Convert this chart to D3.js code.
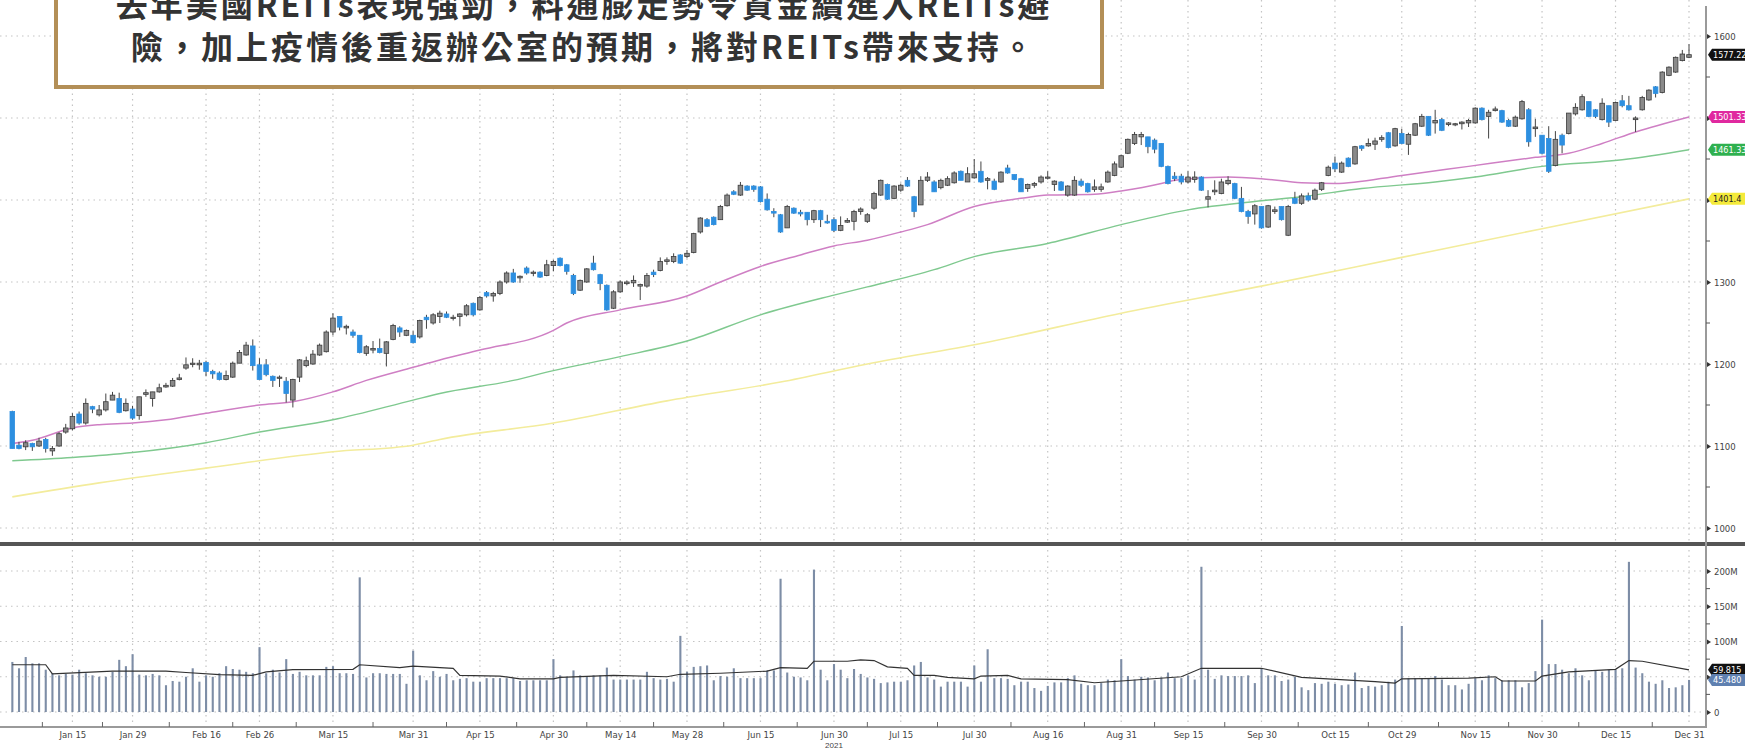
<!DOCTYPE html>
<html><head><meta charset="utf-8">
<script src="https://cdn.jsdelivr.net/npm/d3@7"></script>
<style>
html,body{margin:0;padding:0;background:#fff;}
svg{display:block;}
.ax text{font-family:"Liberation Sans Narrow","DejaVu Sans Condensed",sans-serif;font-size:9.5px;fill:#444;}
</style></head>
<body>
<svg id="c" width="1745" height="748"></svg>
<script>
// ---------------- DATA ----------------
const tradingDays = [
"01-04","01-05","01-06","01-07","01-08","01-11","01-12","01-13","01-14","01-15","01-19","01-20","01-21","01-22","01-25","01-26","01-27","01-28","01-29",
"02-01","02-02","02-03","02-04","02-05","02-08","02-09","02-10","02-11","02-12","02-16","02-17","02-18","02-19","02-22","02-23","02-24","02-25","02-26",
"03-01","03-02","03-03","03-04","03-05","03-08","03-09","03-10","03-11","03-12","03-15","03-16","03-17","03-18","03-19","03-22","03-23","03-24","03-25","03-26","03-29","03-30","03-31",
"04-01","04-05","04-06","04-07","04-08","04-09","04-12","04-13","04-14","04-15","04-16","04-19","04-20","04-21","04-22","04-23","04-26","04-27","04-28","04-29","04-30",
"05-03","05-04","05-05","05-06","05-07","05-10","05-11","05-12","05-13","05-14","05-17","05-18","05-19","05-20","05-21","05-24","05-25","05-26","05-27","05-28",
"06-01","06-02","06-03","06-04","06-07","06-08","06-09","06-10","06-11","06-14","06-15","06-16","06-17","06-18","06-21","06-22","06-23","06-24","06-25","06-28","06-29","06-30",
"07-01","07-02","07-06","07-07","07-08","07-09","07-12","07-13","07-14","07-15","07-16","07-19","07-20","07-21","07-22","07-23","07-26","07-27","07-28","07-29","07-30",
"08-02","08-03","08-04","08-05","08-06","08-09","08-10","08-11","08-12","08-13","08-16","08-17","08-18","08-19","08-20","08-23","08-24","08-25","08-26","08-27","08-30","08-31",
"09-01","09-02","09-03","09-07","09-08","09-09","09-10","09-13","09-14","09-15","09-16","09-17","09-20","09-21","09-22","09-23","09-24","09-27","09-28","09-29","09-30",
"10-01","10-04","10-05","10-06","10-07","10-08","10-11","10-12","10-13","10-14","10-15","10-18","10-19","10-20","10-21","10-22","10-25","10-26","10-27","10-28","10-29",
"11-01","11-02","11-03","11-04","11-05","11-08","11-09","11-10","11-11","11-12","11-15","11-16","11-17","11-18","11-19","11-22","11-23","11-24","11-26","11-29","11-30",
"12-01","12-02","12-03","12-06","12-07","12-08","12-09","12-10","12-13","12-14","12-15","12-16","12-17","12-20","12-21","12-22","12-23","12-27","12-28","12-29","12-30","12-31"
];
const openPx = [1142,1101,1099,1103,1100,1108,1094,1100,1117,1121,1139,1128,1148,1138,1144,1156,1158,1143,1145,1137,1163,1158,1166,1172,1173,1181,1195,1200,1199,1202,1191,1189,1181,1184,1201,1211,1222,1199,1199,1185,1183,1179,1156,1184,1198,1200,1211,1215,1239,1258,1244,1239,1235,1213,1217,1219,1213,1230,1244,1235,1235,1233,1257,1250,1258,1261,1256,1258,1260,1274,1266,1287,1283,1286,1300,1311,1305,1317,1311,1312,1308,1320,1329,1321,1308,1290,1300,1323,1309,1296,1268,1288,1298,1299,1295,1295,1312,1314,1325,1325,1333,1331,1336,1361,1376,1379,1376,1393,1410,1406,1417,1417,1416,1401,1386,1382,1366,1390,1385,1385,1376,1387,1374,1376,1363,1373,1374,1386,1374,1390,1406,1419,1402,1412,1424,1404,1394,1424,1422,1415,1418,1421,1435,1422,1427,1435,1424,1423,1422,1439,1431,1426,1414,1418,1422,1427,1419,1422,1406,1406,1423,1420,1413,1413,1422,1430,1440,1457,1469,1477,1477,1473,1469,1441,1429,1429,1422,1425,1428,1401,1410,1408,1420,1420,1402,1386,1383,1392,1367,1386,1392,1357,1402,1396,1405,1401,1413,1430,1445,1434,1451,1444,1466,1466,1468,1474,1482,1466,1481,1468,1479,1490,1502,1494,1498,1492,1492,1493,1494,1494,1512,1502,1509,1509,1497,1490,1499,1510,1487,1479,1475,1442,1479,1481,1505,1510,1520,1510,1498,1515,1497,1521,1515,1498,1510,1522,1538,1531,1552,1556,1570,1574];
const highPx = [1143,1105,1107,1104,1110,1110,1100,1117,1127,1140,1142,1158,1149,1150,1164,1166,1165,1158,1149,1160,1169,1166,1176,1177,1183,1188,1208,1207,1205,1204,1193,1191,1192,1203,1217,1227,1230,1207,1206,1186,1186,1184,1182,1206,1209,1217,1225,1241,1262,1258,1248,1242,1235,1223,1228,1231,1228,1249,1246,1242,1240,1254,1260,1262,1265,1264,1260,1262,1273,1275,1283,1289,1288,1302,1313,1316,1308,1319,1314,1313,1327,1327,1330,1322,1310,1303,1317,1332,1310,1297,1290,1302,1302,1308,1298,1311,1315,1330,1330,1335,1334,1339,1360,1379,1378,1380,1394,1408,1412,1422,1418,1418,1417,1408,1390,1383,1394,1391,1388,1385,1388,1388,1382,1379,1380,1378,1388,1391,1384,1410,1425,1420,1418,1420,1428,1405,1429,1434,1424,1426,1429,1435,1436,1440,1450,1447,1428,1426,1435,1443,1431,1427,1420,1422,1430,1435,1424,1423,1418,1429,1426,1421,1425,1420,1436,1447,1455,1475,1483,1483,1477,1475,1469,1442,1434,1432,1435,1435,1429,1412,1424,1426,1429,1421,1416,1388,1395,1392,1394,1392,1392,1394,1410,1408,1409,1414,1422,1442,1453,1447,1452,1466,1467,1475,1476,1479,1483,1488,1487,1482,1494,1505,1502,1510,1500,1495,1494,1496,1499,1513,1513,1510,1514,1510,1499,1503,1522,1512,1499,1479,1490,1484,1481,1506,1518,1529,1520,1511,1524,1515,1520,1528,1527,1502,1527,1535,1539,1557,1563,1575,1583,1590];
const lowPx = [1097,1096,1095,1094,1099,1092,1088,1099,1115,1119,1126,1126,1140,1136,1142,1156,1140,1142,1132,1132,1160,1148,1165,1171,1172,1180,1193,1196,1193,1185,1182,1180,1180,1183,1201,1210,1192,1181,1185,1172,1172,1153,1147,1178,1196,1199,1210,1214,1235,1241,1236,1232,1213,1210,1213,1213,1197,1229,1233,1234,1225,1231,1243,1248,1250,1256,1253,1246,1258,1258,1265,1281,1276,1284,1298,1299,1299,1309,1307,1305,1307,1313,1319,1309,1284,1289,1299,1314,1290,1265,1267,1287,1296,1294,1278,1293,1306,1313,1321,1323,1322,1329,1335,1359,1367,1369,1376,1392,1406,1405,1411,1410,1397,1387,1379,1360,1366,1383,1380,1369,1372,1367,1371,1361,1362,1372,1363,1382,1372,1388,1405,1400,1401,1410,1416,1379,1394,1422,1410,1413,1417,1420,1424,1422,1426,1421,1413,1412,1421,1432,1424,1410,1410,1415,1420,1425,1411,1411,1404,1405,1416,1409,1410,1410,1421,1429,1439,1456,1467,1467,1457,1457,1440,1419,1423,1419,1420,1421,1411,1391,1406,1407,1418,1401,1385,1371,1370,1365,1366,1383,1375,1356,1395,1394,1398,1400,1411,1429,1434,1433,1440,1443,1460,1465,1461,1471,1463,1465,1468,1455,1478,1489,1478,1481,1484,1490,1490,1486,1489,1493,1497,1475,1508,1494,1489,1489,1498,1465,1477,1456,1433,1441,1457,1480,1503,1509,1501,1500,1497,1489,1497,1513,1509,1483,1509,1521,1525,1530,1551,1555,1569,1573];
const closePx = [1097,1097,1104,1099,1106,1097,1097,1115,1122,1136,1128,1152,1145,1144,1154,1162,1141,1152,1134,1160,1165,1166,1171,1174,1180,1183,1199,1201,1201,1191,1188,1181,1186,1201,1214,1223,1198,1181,1187,1180,1184,1164,1181,1205,1204,1212,1223,1239,1256,1245,1246,1235,1214,1221,1219,1214,1227,1247,1239,1241,1226,1253,1254,1260,1262,1257,1257,1261,1271,1260,1281,1283,1286,1300,1311,1300,1307,1311,1312,1306,1321,1325,1320,1313,1286,1302,1316,1315,1298,1266,1288,1300,1300,1302,1297,1308,1309,1325,1327,1331,1323,1335,1359,1378,1368,1370,1392,1406,1407,1418,1412,1413,1398,1388,1384,1361,1392,1384,1383,1376,1387,1376,1372,1363,1369,1375,1386,1389,1382,1408,1424,1401,1417,1418,1417,1386,1424,1428,1410,1424,1426,1433,1424,1432,1432,1422,1426,1413,1434,1433,1425,1410,1419,1420,1428,1428,1423,1412,1417,1424,1418,1410,1416,1416,1434,1444,1454,1474,1480,1480,1465,1462,1441,1420,1426,1422,1428,1428,1412,1404,1412,1422,1424,1402,1386,1380,1393,1366,1393,1388,1376,1392,1396,1405,1400,1412,1421,1440,1438,1445,1441,1465,1463,1469,1472,1476,1464,1487,1469,1480,1493,1502,1479,1497,1485,1494,1493,1495,1497,1512,1498,1507,1511,1495,1490,1501,1520,1471,1489,1457,1435,1474,1467,1506,1513,1526,1502,1502,1518,1495,1519,1515,1510,1500,1525,1534,1530,1556,1562,1574,1578,1577.22];
const volumeM = [71,62,78,69,69,60,55,52,54,53,60,55,52,50,50,57,74,65,82,53,52,54,52,38,44,43,50,62,43,52,50,55,65,61,60,57,55,92,55,60,56,75,54,57,52,52,52,64,65,55,55,54,191,49,55,55,54,54,54,40,87,52,45,58,50,54,45,47,48,43,43,48,48,48,48,48,44,45,45,45,45,75,52,50,59,52,51,52,52,63,46,46,46,46,46,57,48,46,47,43,108,57,64,65,66,45,51,50,62,48,48,48,48,59,59,189,56,50,49,45,202,60,45,68,60,48,61,54,49,47,41,42,43,43,45,66,71,49,46,36,43,43,43,36,66,43,89,48,48,47,38,43,43,34,30,37,42,42,48,52,40,38,38,41,46,45,75,51,46,50,49,45,49,56,48,48,52,46,206,60,47,52,51,51,51,52,41,62,52,52,44,46,50,35,31,41,40,43,40,38,39,56,34,37,36,38,43,46,122,48,48,48,48,51,46,38,38,32,40,48,45,52,48,45,45,45,35,41,58,131,68,68,60,55,62,52,45,59,57,60,60,62,213,63,55,43,40,45,34,35,38,45.48];
// moving averages (trading-day index, value)
const ma50Idx = [0,3,9,13,18,23,29,37,42,48,53,60,64,70,81,83,91,101,106,112,118,123,128,133,137,144,151,155,162,166,172,174,182,187,193,198,208,218,228,233,238,243,251];
const ma50Val = [1103,1107,1122,1126,1128,1132,1140,1150,1154,1166,1180,1196,1205,1217,1241,1250,1266,1283,1300,1319,1333,1344,1351,1361,1370,1392,1402,1406,1407,1411,1420,1424,1428,1426,1421,1420,1430,1441,1452,1457,1469,1483,1501.33];
const ma100Idx = [0,9,18,29,37,48,60,64,75,81,91,101,112,123,128,138,144,155,166,176,187,193,202,213,219,229,241,251];
const ma100Val = [1082,1086,1092,1104,1117,1132,1156,1164,1180,1192,1209,1228,1260,1284,1294,1315,1331,1347,1370,1388,1399,1404,1414,1422,1428,1441,1449,1461.33];
const ma200Idx = [0,13,29,48,60,64,81,98,115,128,145,166,187,208,229,251];
const ma200Val = [1038,1055,1073,1093,1101,1108,1128,1155,1178,1200,1225,1262,1295,1330,1365,1401.4];
const volMaIdx = [0,5,6,15,23,26,31,36,38,42,51,52,58,60,66,67,73,76,81,82,90,98,100,106,113,115,119,120,125,127,129,131,134,135,138,140,144,145,149,151,158,162,166,175,178,187,193,204,207,208,218,222,223,228,229,233,240,242,244,251];
const volMaVal = [67,67,54,58,58,56,53,52,57,60,60.5,67,63,65,62,52,51,47,47,49,52,50,53.5,55,58,63,62,72,72,74,73,64,62,52,52,49,47,51,52,47,46,41.5,44,50,62,62,49,43,41,47,48,50,44,44,51,57,60.5,73,72,59.815];
const xTickDates = ["01-15","01-29","02-16","02-26","03-15","03-31","04-15","04-30","05-14","05-28","06-15","06-30","07-15","07-30","08-16","08-31","09-15","09-30","10-15","10-29","11-15","11-30","12-15","12-31"];
const xTickLabels = ["Jan 15","Jan 29","Feb 16","Feb 26","Mar 15","Mar 31","Apr 15","Apr 30","May 14","May 28","Jun 15","Jun 30","Jul 15","Jul 30","Aug 16","Aug 31","Sep 15","Sep 30","Oct 15","Oct 29","Nov 15","Nov 30","Dec 15","Dec 31"];
const priceTicks = [1000,1100,1200,1300,1400,1500,1600];
const priceTickLabels = ["1000","1100","1200","1300","","","1600"]; // 1400/1500 hidden under the value tags
const volTicks = [0,50,100,150,200];
const volTickLabels = ["0","","100M","150M","200M"];
const lastTags = [
  {v:1577.22, text:"1577.22", bg:"#111", fg:"#fff"},
  {v:1501.33, text:"1501.33", bg:"#e0299f", fg:"#fff"},
  {v:1461.33, text:"1461.33", bg:"#2fb04f", fg:"#fff"},
  {v:1401.4, text:"1401.4", bg:"#f4ea3a", fg:"#222"}
];
const volTags = [
  {v:59.815, text:"59.815", bg:"#111", fg:"#fff"},
  {v:45.48, text:"45.480", bg:"#5f80b0", fg:"#fff"}
];
const noteLines = ["去年美國REITs表現強勁，料通膨走勢令資金續進入REITs避","險，加上疫情後重返辦公室的預期，將對REITs帶來支持。"];

// ---------------- DRAW ----------------
const svg = d3.select("#c");
const W = 1745, axisX = 1706;
const x = d3.scalePoint().domain(tradingDays).range([12.3, 1689]);
const yP = d3.scaleLinear().domain([1000,1600]).range([528,36]);
const yV = d3.scaleLinear().domain([0,200]).range([712,571]);
const idxDate = i => tradingDays[i];

svg.append("rect").attr("width",W).attr("height",748).attr("fill","#fff");

// grids
const grid = svg.append("g").attr("stroke","#c4c4c4").attr("stroke-width",1.2).attr("stroke-dasharray","1.5,4");
grid.selectAll(".vg").data(xTickDates).join("line")
  .attr("x1",d=>x(d)).attr("x2",d=>x(d)).attr("y1",0).attr("y2",727);
grid.selectAll(".hg").data(priceTicks).join("line")
  .attr("x1",0).attr("x2",axisX).attr("y1",d=>yP(d)).attr("y2",d=>yP(d));
grid.selectAll(".hv").data(volTicks).join("line")
  .attr("x1",0).attr("x2",axisX).attr("y1",d=>yV(d)).attr("y2",d=>yV(d));

// moving averages
function maLine(idx, vals, color, w){
  const pts = idx.map((d,k)=>[x(idxDate(d)), yP(vals[k])]);
  svg.append("path").attr("d", d3.line().curve(d3.curveMonotoneX)(pts))
    .attr("fill","none").attr("stroke",color).attr("stroke-width",w);
}
maLine(ma200Idx, ma200Val, "#f3ec9c", 1.6);
maLine(ma100Idx, ma100Val, "#7fc98f", 1.4);
maLine(ma50Idx, ma50Val, "#cf7fc4", 1.5);

// candles
const candles = tradingDays.map((d,i)=>({d, o:openPx[i], h:highPx[i], l:lowPx[i], c:closePx[i]}));
const cg = svg.append("g");
cg.selectAll("line.w").data(candles).join("line")
  .attr("x1",d=>x(d.d)).attr("x2",d=>x(d.d))
  .attr("y1",d=>yP(d.h)).attr("y2",d=>yP(d.l))
  .attr("stroke","#444").attr("stroke-width",1);
cg.selectAll("rect.b").data(candles).join("rect")
  .attr("x",d=>x(d.d)-2.3).attr("width",4.6)
  .attr("y",d=>yP(Math.max(d.o,d.c)))
  .attr("height",d=>Math.max(1.2, Math.abs(yP(d.o)-yP(d.c))))
  .attr("fill",d=> d.c>=d.o ? "#8a8a8a" : "#2d8fe0")
  .attr("stroke",d=> d.c>=d.o ? "#3c3c3c" : "#2d8fe0").attr("stroke-width",0.8);

// volume bars
svg.append("g").selectAll("rect").data(tradingDays).join("rect")
  .attr("x",d=>x(d)-1).attr("width",2.1)
  .attr("y",(d,i)=>yV(volumeM[i])).attr("height",(d,i)=>yV(0)-yV(volumeM[i]))
  .attr("fill","#7d8da6");
// volume MA
svg.append("path").attr("d", d3.line()(volMaIdx.map((d,k)=>[x(idxDate(d)), yV(volMaVal[k])])))
  .attr("fill","none").attr("stroke","#333").attr("stroke-width",1.2);

// separator
svg.append("line").attr("x1",0).attr("x2",W).attr("y1",544).attr("y2",544).attr("stroke","#555").attr("stroke-width",4);
// right axis line
svg.append("line").attr("x1",axisX).attr("x2",axisX).attr("y1",6).attr("y2",728).attr("stroke","#9a9a9a").attr("stroke-width",2);
// bottom axis line
svg.append("line").attr("x1",0).attr("x2",axisX).attr("y1",727).attr("y2",727).attr("stroke","#9a9a9a").attr("stroke-width",2);

// right price axis
const ax1 = svg.append("g").attr("class","ax").attr("transform",`translate(${axisX},0)`)
  .call(d3.axisRight(yP).tickValues(priceTicks).tickSize(0).tickPadding(8).tickFormat((d,i)=>priceTickLabels[i]));
ax1.select(".domain").remove();
ax1.selectAll(".tick").append("path").attr("d","M1,-2.5L5,0L1,2.5Z").attr("fill","#333");
svg.append("g").selectAll("line").data(d3.range(1050,1600,100)).join("line")
  .attr("x1",axisX).attr("x2",axisX+4).attr("y1",d=>yP(d)).attr("y2",d=>yP(d)).attr("stroke","#555");
// volume axis
const ax2 = svg.append("g").attr("class","ax").attr("transform",`translate(${axisX},0)`)
  .call(d3.axisRight(yV).tickValues(volTicks).tickSize(0).tickPadding(8).tickFormat((d,i)=>volTickLabels[i]));
ax2.select(".domain").remove();
ax2.selectAll(".tick").append("path").attr("d","M1,-2.5L5,0L1,2.5Z").attr("fill","#333");
svg.append("g").selectAll("line").data([25,75,125,175]).join("line")
  .attr("x1",axisX).attr("x2",axisX+4).attr("y1",d=>yV(d)).attr("y2",d=>yV(d)).attr("stroke","#555");

// last value tags
function tags(arr, scale){
  const g = svg.append("g").selectAll("g").data(arr).join("g")
    .attr("transform",d=>`translate(${axisX+2},${scale(d.v)})`);
  g.append("path").attr("d","M0,0L4,-6L37,-6L37,6L4,6Z").attr("fill",d=>d.bg);
  g.append("text").attr("x",5).attr("y",3.2).text(d=>d.text)
    .attr("fill",d=>d.fg).attr("font-family","Liberation Sans Narrow, DejaVu Sans Condensed, sans-serif").attr("font-size",9);
}
tags(lastTags, yP);
tags(volTags, yV);

// bottom axis
const ax3 = svg.append("g").attr("class","ax").attr("transform","translate(0,727)")
  .call(d3.axisBottom(x).tickValues(xTickDates).tickSize(0).tickPadding(4).tickFormat((d,i)=>xTickLabels[i]));
ax3.select(".domain").remove();
ax3.selectAll("text").attr("font-size",9);
const mids = xTickDates.slice(0,-1).map((d,i)=>(x(d)+x(xTickDates[i+1]))/2);
mids.unshift(x(xTickDates[0]) - (x(xTickDates[1])-x(xTickDates[0]))/2);
svg.append("g").selectAll("line").data(mids).join("line")
  .attr("x1",d=>d).attr("x2",d=>d).attr("y1",722).attr("y2",727).attr("stroke","#666");
svg.append("text").attr("x",x("06-30")).attr("y",747.5).attr("text-anchor","middle")
  .attr("font-family","Liberation Sans Narrow, sans-serif").attr("font-size",8).attr("fill","#444").text("2021");

// note box
const box = svg.append("g");
box.append("rect").attr("x",56).attr("y",-40).attr("width",1046).attr("height",127)
  .attr("fill","#fff").attr("stroke","#b38f57").attr("stroke-width",4);
box.selectAll("text").data(noteLines).join("text")
  .attr("x",584).attr("y",(d,i)=>17+i*42).attr("text-anchor","middle")
  .attr("font-family","'Noto Sans CJK TC','Noto Sans CJK SC',sans-serif").attr("font-weight",700)
  .attr("font-size",32).attr("letter-spacing",3).attr("fill","#333").text(d=>d);
</script>
</body></html>
